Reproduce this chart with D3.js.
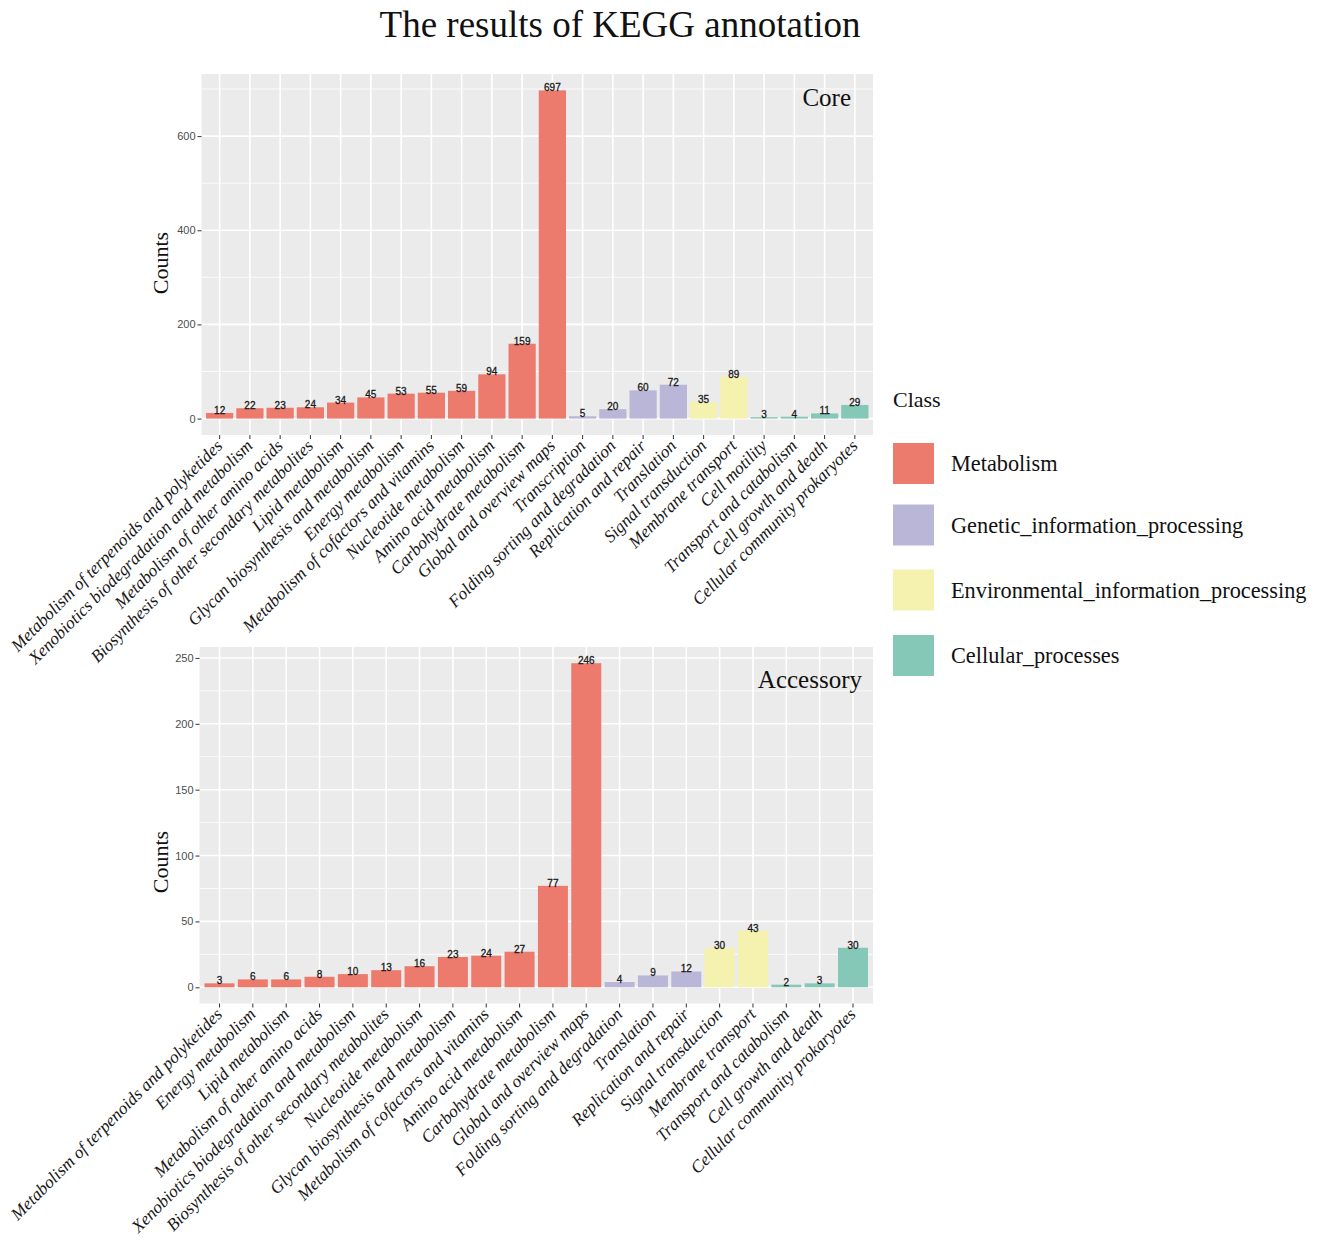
<!DOCTYPE html>
<html>
<head>
<meta charset="utf-8">
<script src="https://cdn.jsdelivr.net/npm/d3@7"></script>
<style>
  html, body { margin: 0; padding: 0; background: #fff; }
  svg { display: block; }
</style>
</head>
<body>
<svg id="chart" width="1325" height="1242"></svg>
<script>
// ---------- DATA ----------
const classes = ["Metabolism", "Genetic_information_processing", "Environmental_information_processing", "Cellular_processes"];
const classColors = ["#EC7A6D", "#BAB6D8", "#F4F2AE", "#85C8B8"];

const coreCategories = [
  "Metabolism of terpenoids and polyketides", "Xenobiotics biodegradation and metabolism",
  "Metabolism of other amino acids", "Biosynthesis of other secondary metabolites",
  "Lipid metabolism", "Glycan biosynthesis and metabolism", "Energy metabolism",
  "Metabolism of cofactors and vitamins", "Nucleotide metabolism", "Amino acid metabolism",
  "Carbohydrate metabolism", "Global and overview maps",
  "Transcription", "Folding sorting and degradation", "Replication and repair", "Translation",
  "Signal transduction", "Membrane transport",
  "Cell motility", "Transport and catabolism", "Cell growth and death", "Cellular community prokaryotes"
];
const coreValues = [12, 22, 23, 24, 34, 45, 53, 55, 59, 94, 159, 697, 5, 20, 60, 72, 35, 89, 3, 4, 11, 29];
const coreClass = [0,0,0,0,0,0,0,0,0,0,0,0, 1,1,1,1, 2,2, 3,3,3,3];
const coreMajorTicks = [0, 200, 400, 600];
const coreMinorTicks = [100, 300, 500, 700];

const accCategories = [
  "Metabolism of terpenoids and polyketides", "Energy metabolism", "Lipid metabolism",
  "Metabolism of other amino acids", "Xenobiotics biodegradation and metabolism",
  "Biosynthesis of other secondary metabolites", "Nucleotide metabolism",
  "Glycan biosynthesis and metabolism", "Metabolism of cofactors and vitamins",
  "Amino acid metabolism", "Carbohydrate metabolism", "Global and overview maps",
  "Folding sorting and degradation", "Translation", "Replication and repair",
  "Signal transduction", "Membrane transport",
  "Transport and catabolism", "Cell growth and death", "Cellular community prokaryotes"
];
const accValues = [3, 6, 6, 8, 10, 13, 16, 23, 24, 27, 77, 246, 4, 9, 12, 30, 43, 2, 3, 30];
const accClass = [0,0,0,0,0,0,0,0,0,0,0,0, 1,1,1, 2,2, 3,3,3];
const accMajorTicks = [0, 50, 100, 150, 200, 250];
const accMinorTicks = [25, 75, 125, 175, 225];

// ---------- DRAW ----------
const svg = d3.select("#chart");
const SERIF = "'Liberation Serif', 'Times New Roman', serif";
const SANS = "'Liberation Sans', Arial, sans-serif";

svg.append("text")
  .attr("x", 620).attr("y", 37)
  .attr("text-anchor", "middle")
  .style("font-family", SERIF).style("font-size", "37px").attr("fill", "#111")
  .text("The results of KEGG annotation");

function panel(cfg) {
  const { cats, vals, cls, major, minor, left, right, top, bottom, tag, tagX, tagY, titleY } = cfg;
  const maxV = d3.max(vals);
  const x = d3.scaleBand().domain(cats).range([left, right]).paddingInner(0.1).paddingOuter(0.15);
  const y = d3.scaleLinear().domain([-0.05 * maxV, 1.05 * maxV]).range([bottom, top]);
  const g = svg.append("g");

  g.append("rect").attr("x", left).attr("y", top).attr("width", right - left).attr("height", bottom - top)
    .attr("fill", "#EBEBEB");

  // minor grid
  g.selectAll(".ymin").data(minor).enter().append("line")
    .attr("x1", left).attr("x2", right).attr("y1", d => y(d)).attr("y2", d => y(d))
    .attr("stroke", "#fff").attr("stroke-width", 0.8);
  // major grid
  g.selectAll(".ymaj").data(major).enter().append("line")
    .attr("x1", left).attr("x2", right).attr("y1", d => y(d)).attr("y2", d => y(d))
    .attr("stroke", "#fff").attr("stroke-width", 1.6);
  g.selectAll(".xmaj").data(cats).enter().append("line")
    .attr("x1", d => x(d) + x.bandwidth() / 2).attr("x2", d => x(d) + x.bandwidth() / 2)
    .attr("y1", top).attr("y2", bottom)
    .attr("stroke", "#fff").attr("stroke-width", 1.6);

  // bars
  g.selectAll(".bar").data(cats).enter().append("rect")
    .attr("x", d => x(d)).attr("width", x.bandwidth())
    .attr("y", (d, i) => y(vals[i])).attr("height", (d, i) => y(0) - y(vals[i]))
    .attr("fill", (d, i) => classColors[cls[i]]);

  // value labels
  g.selectAll(".lab").data(cats).enter().append("text")
    .attr("x", d => x(d) + x.bandwidth() / 2)
    .attr("y", (d, i) => y(vals[i]) + 1)
    .attr("text-anchor", "middle")
    .style("font-family", SANS).style("font-size", "10px").attr("fill", "#1a1a1a")
    .attr("stroke", "#1a1a1a").attr("stroke-width", 0.3)
    .text((d, i) => vals[i]);

  // y axis
  const ya = d3.axisLeft(y).tickValues(major).tickSize(4).tickPadding(2);
  const yg = g.append("g").attr("transform", `translate(${left},0)`).call(ya);
  yg.select(".domain").remove();
  yg.selectAll(".tick line").attr("stroke", "#333").attr("stroke-width", 1);
  yg.selectAll(".tick text").style("font-family", SANS).style("font-size", "11px").attr("fill", "#4D4D4D");

  // x axis
  const xa = d3.axisBottom(x).tickSize(4).tickPadding(0);
  const xg = g.append("g").attr("transform", `translate(0,${bottom})`).call(xa);
  xg.select(".domain").remove();
  xg.selectAll(".tick line").attr("stroke", "#333").attr("stroke-width", 1);
  xg.selectAll(".tick text")
    .attr("text-anchor", "end")
    .attr("transform", "translate(-5,3) rotate(-45)")
    .attr("x", 0).attr("y", 0).attr("dy", "0.72em")
    .style("font-family", SERIF).style("font-style", "italic").style("font-size", "17.4px")
    .attr("fill", "#1a1a1a");

  // y title
  svg.append("text")
    .attr("transform", `translate(168,${titleY}) rotate(-90)`)
    .attr("text-anchor", "middle")
    .style("font-family", SERIF).style("font-size", "22px").attr("fill", "#111")
    .text("Counts");

  // panel tag
  svg.append("text").attr("x", tagX).attr("y", tagY).attr("text-anchor", "end")
    .style("font-family", SERIF).style("font-size", "25px").attr("fill", "#111")
    .text(tag);
}

panel({ cats: coreCategories, vals: coreValues, cls: coreClass, major: coreMajorTicks, minor: coreMinorTicks,
  left: 201.5, right: 873, top: 74, bottom: 435, tag: "Core", tagX: 851, tagY: 106, titleY: 263 });
panel({ cats: accCategories, vals: accValues, cls: accClass, major: accMajorTicks, minor: accMinorTicks,
  left: 199.5, right: 873, top: 647, bottom: 1003.5, tag: "Accessory", tagX: 862, tagY: 688, titleY: 862 });

// legend
const lg = svg.append("g");
lg.append("text").attr("x", 893).attr("y", 406.5)
  .style("font-family", SERIF).style("font-size", "22px").attr("fill", "#111").text("Class");
const legY = [443, 504.5, 569.5, 635];
lg.selectAll(".sw").data(classes).enter().append("rect")
  .attr("x", 893).attr("y", (d, i) => legY[i]).attr("width", 41).attr("height", 41)
  .attr("fill", (d, i) => classColors[i]);
lg.selectAll(".lt").data(classes).enter().append("text")
  .attr("x", 951).attr("y", (d, i) => legY[i] + 28)
  .style("font-family", SERIF).style("font-size", "22.3px").attr("fill", "#111")
  .text(d => d);
</script>
</body>
</html>
